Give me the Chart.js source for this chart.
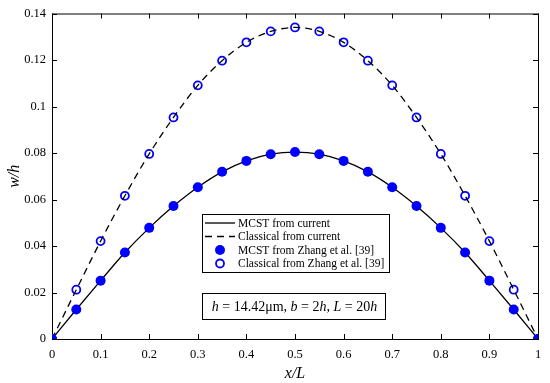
<!DOCTYPE html>
<html>
<head>
<meta charset="utf-8">
<script src="https://cdn.jsdelivr.net/npm/chart.js@4"></script>
<style>
  html, body { margin: 0; background: #fff; }
  #wrap { width: 550px; height: 383px; }
</style>
</head>
<body>
<div id="wrap"><canvas id="chart"></canvas></div>
<script>
// positions along the beam (x/L)
const xPos = [0, 0.05, 0.1, 0.15, 0.2, 0.25, 0.3, 0.35, 0.4, 0.45, 0.5,
              0.55, 0.6, 0.65, 0.7, 0.75, 0.8, 0.85, 0.9, 0.95, 1];
// deflection w/h
const mcstValues = [0, 0.0127, 0.0251, 0.0372, 0.0478, 0.0572, 0.0653, 0.0719, 0.0766, 0.0795, 0.0804,
                    0.0795, 0.0766, 0.0719, 0.0653, 0.0572, 0.0478, 0.0372, 0.0251, 0.0127, 0];
const classicalValues = [0, 0.0212, 0.0421, 0.0616, 0.0796, 0.0953, 0.1091, 0.1197, 0.1276, 0.1323, 0.1340,
                         0.1323, 0.1276, 0.1197, 0.1091, 0.0953, 0.0796, 0.0616, 0.0421, 0.0212, 0];
const xTicks = [0, 0.1, 0.2, 0.3, 0.4, 0.5, 0.6, 0.7, 0.8, 0.9, 1];
const yTicks = [0, 0.02, 0.04, 0.06, 0.08, 0.1, 0.12, 0.14];

const legendItems = ['MCST from current', 'Classical from current',
                     'MCST from Zhang et al. [39]', 'Classical from Zhang et al. [39]'];

const SERIF = '"Liberation Serif", "Times New Roman", serif';
const BLUE = '#0000ff';
const DASH = [7, 5];

const pts = vals => xPos.map((x, i) => ({ x, y: vals[i] }));
const fmt = v => String(Number(v.toFixed(2)));

// frame + inward ticks on all four sides
const framePlugin = {
  id: 'frame',
  beforeDatasetsDraw(chart) {
    const { ctx, chartArea: a, scales } = chart;
    ctx.save();
    ctx.strokeStyle = '#000';
    ctx.lineWidth = 1;
    ctx.strokeRect(a.left + 0.5, a.top + 0.5, a.right - a.left, a.bottom - a.top);
    ctx.beginPath();
    xTicks.forEach(t => {
      const px = Math.round(scales.x.getPixelForValue(t)) + 0.5;
      ctx.moveTo(px, a.bottom); ctx.lineTo(px, a.bottom - 5);
      ctx.moveTo(px, a.top); ctx.lineTo(px, a.top + 5);
    });
    yTicks.forEach(t => {
      const py = Math.round(scales.y.getPixelForValue(t)) + 0.5;
      ctx.moveTo(a.left, py); ctx.lineTo(a.left + 5, py);
      ctx.moveTo(a.right, py); ctx.lineTo(a.right - 5, py);
    });
    ctx.stroke();
    ctx.restore();
  }
};

// legend box and parameter box inside the plot
const boxesPlugin = {
  id: 'boxes',
  afterDraw(chart) {
    const ctx = chart.ctx;
    ctx.save();
    // legend
    const lx = 202, ly = 214, lw = 187, lh = 58;
    ctx.fillStyle = '#fff';
    ctx.fillRect(lx, ly, lw, lh);
    ctx.strokeStyle = '#000';
    ctx.lineWidth = 1;
    ctx.strokeRect(lx + 0.5, ly + 0.5, lw, lh);
    const rows = [223, 236.5, 250, 263.5];
    ctx.font = '11.5px ' + SERIF;
    ctx.textBaseline = 'middle';
    ctx.textAlign = 'left';
    rows.forEach((ry, i) => {
      ctx.beginPath();
      if (i < 2) {
        ctx.strokeStyle = '#000';
        ctx.lineWidth = 1.3;
        ctx.setLineDash(i === 1 ? DASH : []);
        ctx.moveTo(205, ry); ctx.lineTo(235, ry);
        ctx.stroke();
        ctx.setLineDash([]);
      } else if (i === 2) {
        ctx.fillStyle = BLUE;
        ctx.arc(220, ry, 5, 0, Math.PI * 2);
        ctx.fill();
      } else {
        ctx.strokeStyle = BLUE;
        ctx.lineWidth = 1.8;
        ctx.arc(220, ry, 4, 0, Math.PI * 2);
        ctx.stroke();
      }
      ctx.fillStyle = '#000';
      ctx.fillText(legendItems[i], 238, ry + 0.5);
    });

    // parameter box
    const bx = 202, by = 293, bw = 183, bh = 26;
    ctx.fillStyle = '#fff';
    ctx.fillRect(bx, by, bw, bh);
    ctx.strokeStyle = '#000';
    ctx.lineWidth = 1;
    ctx.strokeRect(bx + 0.5, by + 0.5, bw, bh);
    const parts = [['h', 1], [' = 14.42\u03bcm, ', 0], ['b', 1], [' = 2', 0], ['h', 1],
                   [', ', 0], ['L', 1], [' = 20', 0], ['h', 1]];
    const fontOf = it => (it ? 'italic ' : '') + '14px ' + SERIF;
    let total = 0;
    parts.forEach(([s, it]) => { ctx.font = fontOf(it); total += ctx.measureText(s).width; });
    let cx = bx + bw / 2 - total / 2 + 1;
    ctx.fillStyle = '#000';
    parts.forEach(([s, it]) => {
      ctx.font = fontOf(it);
      ctx.fillText(s, cx, by + bh / 2 + 1);
      cx += ctx.measureText(s).width;
    });
    ctx.restore();
  }
};

new Chart(document.getElementById('chart'), {
  type: 'line',
  data: {
    datasets: [
      {
        label: 'MCST from current',
        data: pts(mcstValues),
        borderColor: '#000',
        borderWidth: 1.3,
        pointRadius: 0,
        cubicInterpolationMode: 'monotone',
        fill: false,
        order: 2
      },
      {
        label: 'Classical from current',
        data: pts(classicalValues),
        borderColor: '#000',
        borderWidth: 1.3,
        borderDash: DASH,
        pointRadius: 0,
        cubicInterpolationMode: 'monotone',
        fill: false,
        order: 1
      },
      {
        label: 'MCST from Zhang et al. [39]',
        data: pts(mcstValues),
        showLine: false,
        pointRadius: 5,
        pointBackgroundColor: BLUE,
        pointBorderColor: BLUE,
        pointBorderWidth: 0,
        order: 0
      },
      {
        label: 'Classical from Zhang et al. [39]',
        data: pts(classicalValues),
        showLine: false,
        pointRadius: 4,
        pointBackgroundColor: 'rgba(0,0,0,0)',
        pointBorderColor: BLUE,
        pointBorderWidth: 1.8,
        order: 3
      }
    ]
  },
  options: {
    responsive: true,
    maintainAspectRatio: false,
    animation: false,
    devicePixelRatio: 1,
    layout: { padding: { top: 12, right: 12, left: 0, bottom: 0 } },
    plugins: { legend: { display: false }, tooltip: { enabled: false } },
    scales: {
      x: {
        type: 'linear',
        min: 0,
        max: 1,
        afterBuildTicks: s => { s.ticks = xTicks.map(v => ({ value: v })); },
        afterFit: s => { s.height = 44; },
        grid: { display: false, drawTicks: false },
        border: { display: false },
        ticks: {
          autoSkip: false,
          maxRotation: 0,
          padding: 8,
          color: '#000',
          font: { family: SERIF, size: 12.5 },
          callback: v => fmt(v)
        },
        title: {
          display: true,
          text: 'x/L',
          color: '#000',
          padding: { top: 2, bottom: 0 },
          font: { family: SERIF, size: 16, style: 'italic' }
        }
      },
      y: {
        type: 'linear',
        min: 0,
        max: 0.14,
        afterBuildTicks: s => { s.ticks = yTicks.map(v => ({ value: v })); },
        afterFit: s => { s.width = 52; },
        grid: { display: false, drawTicks: false },
        border: { display: false },
        ticks: {
          autoSkip: false,
          padding: 6,
          color: '#000',
          font: { family: SERIF, size: 12.5 },
          callback: v => fmt(v)
        },
        title: {
          display: true,
          text: 'w/h',
          color: '#000',
          padding: { top: 5, bottom: 0 },
          font: { family: SERIF, size: 16, style: 'italic' }
        }
      }
    }
  },
  plugins: [framePlugin, boxesPlugin]
});
</script>
</body>
</html>
